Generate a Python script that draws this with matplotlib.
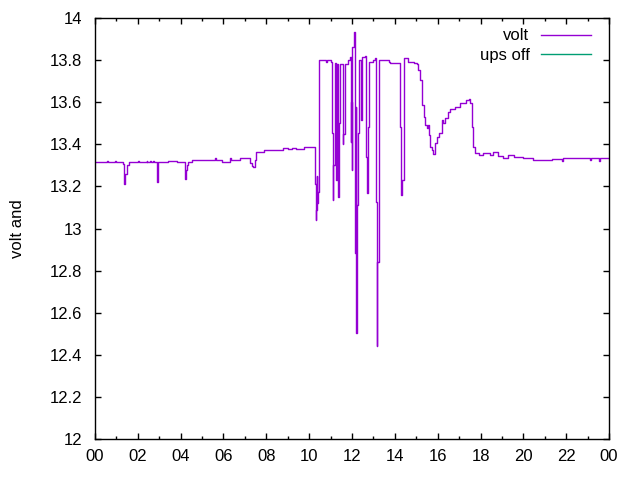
import numpy as np
import matplotlib
matplotlib.use("Agg")
import matplotlib.pyplot as plt
from matplotlib.ticker import MultipleLocator, FuncFormatter

plt.rcParams['font.family'] = ['Liberation Sans', 'DejaVu Sans']

# hours since midnight, volt readings
hours = [
    0.00, 0.50, 0.55, 0.60, 0.93, 0.98, 1.24, 1.30, 1.37, 1.40, 1.44, 1.48, 1.60,
    2.02, 2.06, 2.41, 2.45, 2.55, 2.60, 2.70, 2.74, 2.86, 2.88, 2.92, 2.95,
    3.27, 3.42, 3.81, 3.85, 4.18, 4.20, 4.25, 4.28, 4.36, 4.51,
    5.60, 5.65, 5.91, 6.30, 6.35, 6.54, 6.77, 7.16, 7.24, 7.31, 7.39, 7.47, 7.52,
    7.90, 8.79, 9.00, 9.20, 9.40, 9.76, 10.19, 10.27,
    10.28, 10.30, 10.31, 10.33, 10.36, 10.38, 10.40, 10.45, 10.47,
    10.80, 10.85, 11.02, 11.08, 11.10, 11.12, 11.20, 11.24, 11.28, 11.36, 11.40,
    11.45, 11.52, 11.58, 11.60, 11.66, 11.80, 11.90, 11.95, 11.97, 12.00, 12.02,
    12.11, 12.14, 12.17, 12.20, 12.25, 12.30, 12.34, 12.40, 12.45, 12.53, 12.61,
    12.65, 12.70, 12.73, 12.78, 12.92, 13.00, 13.08, 13.11, 13.16, 13.19, 13.24,
    13.26, 13.75, 13.77, 14.22, 14.26, 14.28, 14.31, 14.35, 14.41, 14.60, 14.90,
    15.02, 15.10, 15.17, 15.25, 15.29, 15.35, 15.41, 15.48, 15.57, 15.60, 15.66,
    15.72, 15.80, 15.89, 15.96, 16.08, 16.19, 16.24, 16.35, 16.46, 16.58, 16.82,
    16.97, 17.02, 17.24, 17.33, 17.44, 17.52, 17.58, 17.63, 17.74, 17.95, 18.10,
    18.32, 18.45, 18.60, 18.80, 19.06, 19.30, 19.55, 19.75, 20.00, 20.40, 20.45,
    21.20, 21.35, 21.79, 21.86, 23.13, 23.16, 23.55, 23.58, 24.00,
]
volt = [
    13.314, 13.314, 13.322, 13.314, 13.322, 13.314, 13.314, 13.305, 13.210, 13.257, 13.257, 13.300, 13.314,
    13.322, 13.314, 13.322, 13.314, 13.322, 13.314, 13.322, 13.314, 13.314, 13.222, 13.275, 13.314,
    13.314, 13.322, 13.322, 13.314, 13.314, 13.234, 13.278, 13.300, 13.314, 13.325,
    13.333, 13.325, 13.318, 13.333, 13.325, 13.325, 13.333, 13.333, 13.310, 13.297, 13.294, 13.325, 13.362,
    13.373, 13.384, 13.376, 13.384, 13.380, 13.386, 13.389, 13.389,
    13.210, 13.040, 13.200, 13.090, 13.250, 13.120, 13.175, 13.525, 13.800,
    13.792, 13.800, 13.792, 13.452, 13.135, 13.300, 13.785, 13.230, 13.780, 13.150, 13.500,
    13.780, 13.780, 13.400, 13.450, 13.780, 13.800, 13.816, 13.412, 13.600, 13.278, 13.864,
    13.935, 12.882, 13.579, 12.502, 13.112, 13.452, 13.800, 13.515, 13.816, 13.816, 13.820,
    13.341, 13.167, 13.484, 13.792, 13.792, 13.800, 13.810, 13.127, 12.440, 12.842, 13.792,
    13.800, 13.792, 13.785, 13.785, 13.484, 13.300, 13.159, 13.230, 13.810, 13.792, 13.785,
    13.780, 13.753, 13.705, 13.642, 13.587, 13.531, 13.490, 13.476, 13.490, 13.444, 13.389,
    13.373, 13.354, 13.405, 13.436, 13.455, 13.515, 13.500, 13.523, 13.555, 13.566, 13.576,
    13.578, 13.595, 13.595, 13.610, 13.614, 13.598, 13.484, 13.389, 13.357, 13.350, 13.360,
    13.360, 13.350, 13.365, 13.345, 13.333, 13.350, 13.338, 13.342, 13.333, 13.333, 13.325,
    13.325, 13.330, 13.322, 13.333, 13.325, 13.333, 13.322, 13.333, 13.333,
]

# ups off intervals (none visible in the reference)
ups_hours = []
ups_volt = []

fig = plt.figure(figsize=(6.4, 4.8), dpi=100)
ax = fig.add_axes([0.1484, 0.0854, 0.8032, 0.8771])

ax.plot(hours, volt, color='#9400d3', lw=1, drawstyle='steps-post', label='volt')
ax.plot(ups_hours, ups_volt, color='#009e73', lw=1, label='ups off')

ax.set_xlim(0, 24)
ax.set_ylim(12, 14)
ax.xaxis.set_major_locator(MultipleLocator(2))
ax.xaxis.set_minor_locator(MultipleLocator(1))
ax.yaxis.set_major_locator(MultipleLocator(0.2))
ax.xaxis.set_major_formatter(FuncFormatter(lambda v, p: '%02d' % (int(round(v)) % 24)))
ax.yaxis.set_major_formatter(FuncFormatter(lambda v, p: ('%.1f' % v).rstrip('0').rstrip('.')))

ax.tick_params(which='both', direction='in', top=True, right=True, labelsize=12)
ax.tick_params(which='major', length=4, width=1, pad=7)
ax.tick_params(axis='y', which='major', pad=9)
ax.tick_params(which='minor', length=2, width=1)
for s in ax.spines.values():
    s.set_linewidth(1)

ax.set_ylabel('volt and', fontsize=12, labelpad=18)

ax.legend(loc='upper right', bbox_to_anchor=(0.947, 0.972), bbox_transform=fig.transFigure,
          frameon=False, markerfirst=False, handlelength=3.0, handletextpad=0.7,
          labelspacing=0.25, fontsize=12)

fig.savefig('out.png', dpi=100)
